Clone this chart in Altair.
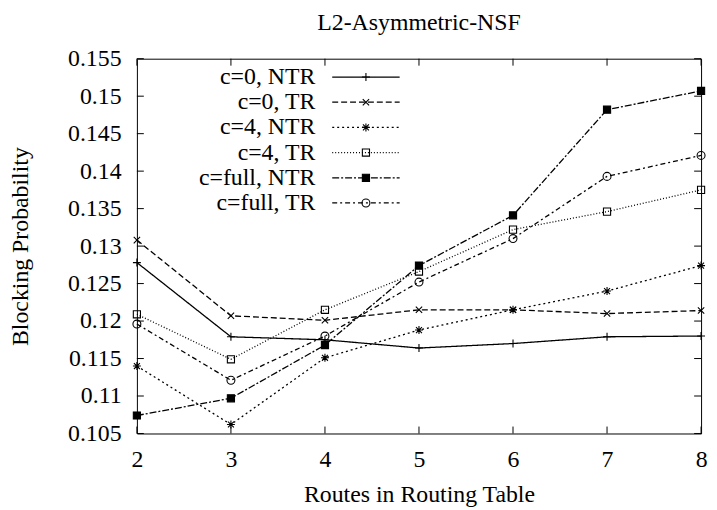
import altair as alt
import pandas as pd

# ---------------- data ----------------
routes = [2, 3, 4, 5, 6, 7, 8]
series_names = ["c=0, NTR", "c=0, TR", "c=4, NTR", "c=4, TR", "c=full, NTR", "c=full, TR"]
c0_ntr = [0.1278, 0.1179, 0.1175, 0.1164, 0.1170, 0.1179, 0.1180]
c0_tr = [0.1308, 0.1207, 0.1201, 0.1215, 0.1215, 0.1210, 0.1214]
c4_ntr = [0.1140, 0.1062, 0.1151, 0.1188, 0.1215, 0.1240, 0.1274]
c4_tr = [0.1209, 0.1149, 0.1215, 0.1266, 0.1322, 0.1346, 0.1375]
cfull_ntr = [0.1074, 0.1097, 0.1168, 0.1274, 0.1341, 0.1482, 0.1507]
cfull_tr = [0.1196, 0.1121, 0.1180, 0.1252, 0.1310, 0.1393, 0.1421]
y_ticks = [0.105, 0.11, 0.115, 0.12, 0.125, 0.13, 0.135, 0.14, 0.145, 0.15, 0.155]
x_ticks = [2, 3, 4, 5, 6, 7, 8]

all_series = [c0_ntr, c0_tr, c4_ntr, c4_tr, cfull_ntr, cfull_tr]
rows = []
for name, vals in zip(series_names, all_series):
    for r, v in zip(routes, vals):
        rows.append({"routes": r, "value": v, "series": name, "series2": name})
df = pd.DataFrame(rows)
ydf = pd.DataFrame({"value": y_ticks})
xdf = pd.DataFrame({"routes": x_ticks})

# ---------------- style ----------------
W, H = 569, 378
FONT = "Liberation Serif, Times New Roman, serif"
FS = 24
TICK = 7
MSIZE = 64

dashes = [[1, 0], [6, 3], [2, 3], [1, 2], [7, 2, 2, 2], [5, 3, 2, 3]]
shapes = [
    "M-1,0H1M0,-1V1",
    "M-0.8,-0.8L0.8,0.8M-0.8,0.8L0.8,-0.8",
    "M-1,0H1M0,-1V1M-0.75,-0.75L0.75,0.75M-0.75,0.75L0.75,-0.75",
    "M-0.9,-0.9H0.9V0.9H-0.9Z",
    "M-0.9,-0.9H0.9V0.9H-0.9Z",
    "circle",
]
fills = ["transparent", "transparent", "transparent", "transparent", "black", "transparent"]
strokes = ["black"] * 6

xscale = alt.Scale(domain=[2, 8], nice=False, zero=False)
yscale = alt.Scale(domain=[0.105, 0.155], nice=False, zero=False)

xaxis = alt.Axis(values=x_ticks, format="d", domain=False, ticks=False, tickSize=0, grid=False,
                 labelFontSize=FS, labelColor="black", labelPadding=14, labelFlush=False,
                 labelOverlap=False, labelFont=FONT,
                 title="Routes in Routing Table", titleFontSize=FS, titleFontWeight="normal",
                 titleColor="black", titlePadding=12, titleFont=FONT)
yaxis = alt.Axis(values=y_ticks, format=".3~f", domain=False, ticks=False, tickSize=0, grid=False,
                 labelFontSize=FS, labelColor="black", labelPadding=16, labelFlush=False,
                 labelOverlap=False, labelFont=FONT,
                 title="Blocking Probability", titleFontSize=FS, titleFontWeight="normal",
                 titleColor="black", titlePadding=35, titleFont=FONT)

LX, LY = 156, 6.5
leg_lines = alt.Legend(orient="none", legendX=LX, legendY=LY, title=None,
                       symbolType="M7.25,0H24.25", symbolSize=64, symbolStrokeWidth=1.3,
                       symbolStrokeColor="black", symbolOffset=0,
                       labelAlign="right", labelOffset=0,
                       labelFontSize=FS, labelFont=FONT, labelColor="black", labelLimit=0,
                       rowPadding=1.4, padding=0, offset=0)
leg_marks = alt.Legend(orient="none", legendX=LX, legendY=LY, title=None,
                       symbolSize=MSIZE, symbolStrokeWidth=1.1, symbolStrokeColor="black",
                       symbolOffset=63, symbolOpacity=1,
                       labelAlign="right", labelOffset=0, labelOpacity=0, labelExpr="''",
                       labelFontSize=FS, labelFont=FONT, labelLimit=0,
                       rowPadding=1.4, padding=0, offset=0)

lines = alt.Chart(df).mark_line(color="black", strokeWidth=1.3).encode(
    x=alt.X("routes:Q", scale=xscale, axis=xaxis),
    y=alt.Y("value:Q", scale=yscale, axis=yaxis),
    strokeDash=alt.StrokeDash("series:N", scale=alt.Scale(domain=series_names, range=dashes),
                              legend=leg_lines),
)

points = alt.Chart(df).mark_point(filled=False, strokeWidth=1.1, size=MSIZE, opacity=1).encode(
    x=alt.X("routes:Q", scale=xscale, axis=xaxis),
    y=alt.Y("value:Q", scale=yscale, axis=yaxis),
    shape=alt.Shape("series2:N", scale=alt.Scale(range=shapes), legend=leg_marks),
    fill=alt.Fill("series2:N", scale=alt.Scale(range=fills), legend=leg_marks),
    stroke=alt.Stroke("series2:N", scale=alt.Scale(range=strokes), legend=leg_marks),
)

left_ticks = alt.Chart(ydf).mark_rule(color="black", strokeWidth=1).encode(
    y=alt.Y("value:Q", scale=yscale, axis=yaxis), x=alt.value(0), x2=alt.value(TICK))
right_ticks = alt.Chart(ydf).mark_rule(color="black", strokeWidth=1).encode(
    y=alt.Y("value:Q", scale=yscale, axis=yaxis), x=alt.value(W - TICK), x2=alt.value(W))
bottom_ticks = alt.Chart(xdf).mark_rule(color="black", strokeWidth=1).encode(
    x=alt.X("routes:Q", scale=xscale, axis=xaxis), y=alt.value(H - TICK), y2=alt.value(H))
top_ticks = alt.Chart(xdf).mark_rule(color="black", strokeWidth=1).encode(
    x=alt.X("routes:Q", scale=xscale, axis=xaxis), y=alt.value(0), y2=alt.value(TICK))

chart = alt.layer(lines, points, left_ticks, right_ticks, bottom_ticks, top_ticks).properties(
    width=W, height=H,
    padding={"left": 130, "top": 49, "right": 8, "bottom": 72},
    autosize=alt.AutoSizeParams(type="none"),
    title=alt.Title("L2-Asymmetric-NSF", fontSize=FS, fontWeight="normal", color="black",
                    anchor="middle", offset=12, font=FONT),
    background="white",
).configure(font=FONT, view=alt.ViewConfig(stroke="black", strokeWidth=1))

chart.save("out.html", embed_options={"renderer": "svg", "actions": False})
